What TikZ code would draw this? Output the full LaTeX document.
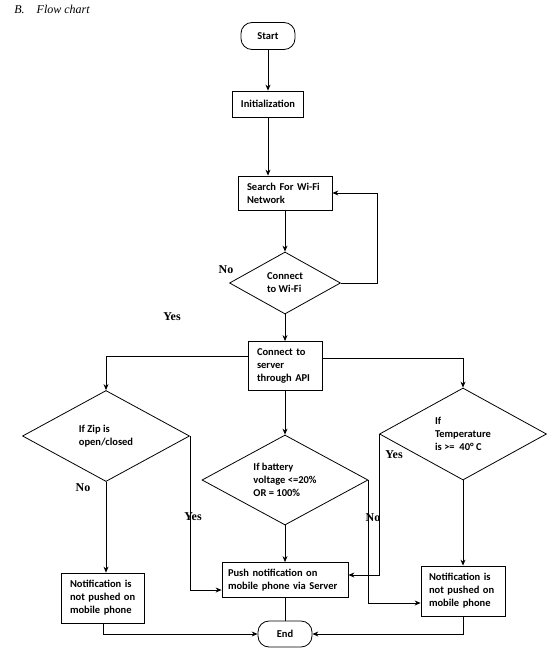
\documentclass[tikz,border=0pt]{standalone}
\usepackage{fontspec}
\setmainfont{Liberation Serif}
\newfontfamily\boxfont{Carlito}
\usepackage{tikz}
\usetikzlibrary{shapes, arrows.meta, positioning}

\tikzset{
  box/.style={draw, rectangle, font=\boxfont\bfseries\fontsize{10.5}{13}\selectfont, inner sep=0pt, align=left},
  term/.style={box, rounded corners=11pt, minimum width=54pt, minimum height=27pt, align=center},
  decision/.style={box, diamond, aspect=2},
  lbl/.style={font=\bfseries\fontsize{12}{14}\selectfont, inner sep=0pt}
}

\begin{document}
\begin{tikzpicture}[x=1pt, y=-1pt, line width=0.8pt, >={Stealth[length=6pt,width=5pt]}, on grid]
	\useasboundingbox (0,0) rectangle (557,653);
	\node[anchor=west, font=\itshape\fontsize{12}{14}\selectfont, inner sep=0pt] (title) at (14,9) {B.\hspace{12pt}Flow chart};

	\node[term] (start) at (268,36) {Start};
	\node[box, minimum width=71pt, minimum height=26pt, align=center] (init) [below=68pt of start] {Initialization};
	\node[box, text width=76pt, inner xsep=9pt, minimum height=34pt] (search) [below right=89pt and 17pt of init] {Search For Wi-Fi\\Network};
	\node[decision, minimum width=111pt, minimum height=62pt] (conn) [below=90pt of search] {Connect\\to Wi-Fi};
	\node[box, text width=56pt, inner xsep=9pt, minimum height=49pt] (server) [below=83pt of conn] {Connect to\\server\\through API};
	\node[decision, minimum width=167pt, minimum height=91pt] (zip) [below left=70pt and 179pt of server] {If Zip is\\open/closed};
	\node[decision, minimum width=166pt, minimum height=90pt] (battery) [below=114pt of server] {If battery\\voltage <=20\%\\OR = 100\%};
	\node[decision, minimum width=167pt, minimum height=92pt] (temp) [below right=68pt and 178pt of server] {If\\Temperature\\is >=~ 40° C};
	\node[box, text width=114pt, inner xsep=6pt, minimum height=35pt] (push) [below=100pt of battery] {Push notification on\\mobile phone via Server};
	\node[box, text width=66pt, inner xsep=8.5pt, minimum height=50pt] (notel) [below left=162pt and 3pt of zip] {Notification is\\not pushed on\\mobile phone};
	\node[box, text width=68pt, inner xsep=8pt, minimum height=50pt] (noter) [below=157pt of temp] {Notification is\\not pushed on\\mobile phone};
	\node[term, minimum height=26pt] (stop) [below=54pt of push] {End};

	\node[lbl] (nowifi) at (226,270) {No};
	\node[lbl] (yeswifi) at (172,317) {Yes};
	\node[lbl] (nozip) at (83,488) {No};
	\node[lbl] (yeszip) at (193,517) {Yes};
	\node[lbl] (nobat) at (373,518) {No};
	\node[lbl] (yestemp) at (394,455) {Yes};

	\path[->]
	(start) edge (init)
	(init) edge (init |- search.north)
	(search) edge (conn)
	(conn) edge (server)
	(server) edge (battery)
	(battery) edge (push)
	(zip) edge (zip |- notel.north)
	(temp) edge (temp |- noter.north);
	\draw (push) -- (stop);
	\draw[->] (conn.east) -- ++(36,0) |- (search.east);
	\draw[->] ([yshift=10pt]server.west) -| (zip);
	\draw[->] ([yshift=8pt]server.east) -| (temp);
	\draw[->] (zip.east) |- ([yshift=-10pt]push.west);
	\draw[->] (temp.west) |- ([yshift=5pt]push.east);
	\draw[->] (battery.east) |- ([yshift=-12pt]noter.west);
	\draw[->] (notel.south) |- (stop.west);
	\draw[->] (noter.south) |- (stop.east);
\end{tikzpicture}
\end{document}
